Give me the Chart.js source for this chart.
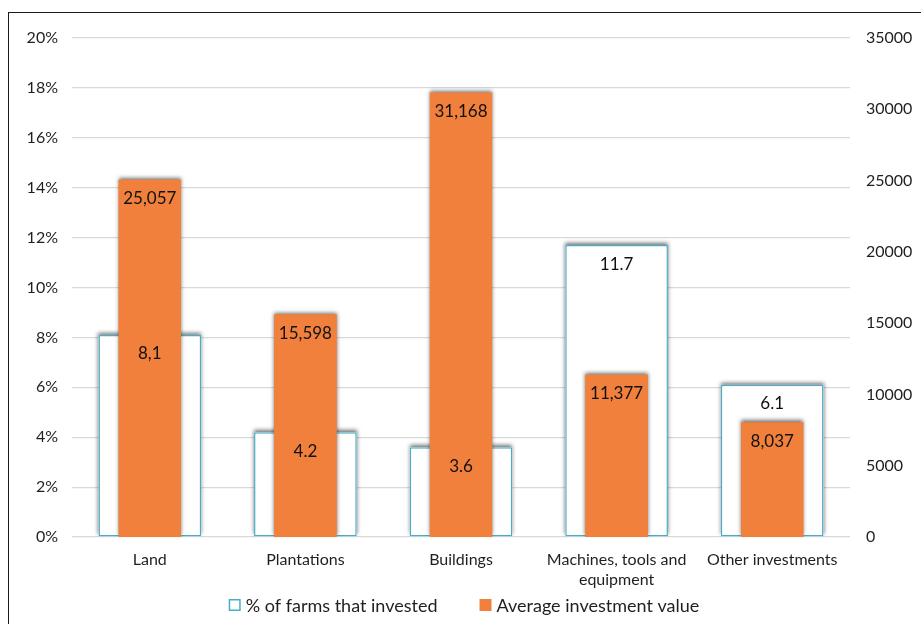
<!DOCTYPE html>
<html>
<head>
<meta charset="utf-8">
<script src="https://cdn.jsdelivr.net/npm/chart.js@4/dist/chart.umd.min.js"></script>
<style>
  html, body { margin: 0; padding: 0; background: #fff; overflow: hidden; }
  #frame {
    position: absolute; left: 8px; top: 12px; width: 1000px; height: 700px;
    border-top: 1.5px solid #1a1a1a; border-left: 1.5px solid #1a1a1a;
    pointer-events: none;
  }
  #wrap { position: absolute; left: 0; top: 0; width: 921px; height: 624px; }
</style>
</head>
<body>
<div id="frame"></div>
<div id="wrap"><canvas id="chart"></canvas></div>
<script>
const categories = ['Land', 'Plantations', 'Buildings', ['Machines, tools and', 'equipment'], 'Other investments'];
const pctValues = [8.1, 4.2, 3.6, 11.7, 6.1];
const pctText = ['8,1', '4.2', '3.6', '11.7', '6.1'];
const avgValues = [25057, 15598, 31168, 11377, 8037];
const pctTicks = [0, 2, 4, 6, 8, 10, 12, 14, 16, 18, 20];
const avgTicks = [0, 5000, 10000, 15000, 20000, 25000, 30000, 35000];

const ORANGE = '#F0803C';
const TEAL = '#4BACC6';
const FONT = 'Lato, Carlito, Calibri, sans-serif';

// soft grey shadow behind the top of each bar
const barShadow = {
  id: 'barShadow',
  beforeDatasetDraw(chart, args) {
    const ctx = chart.ctx;
    const area = chart.chartArea;
    ctx.save();
    ctx.beginPath();
    ctx.rect(area.left, area.top - 10, area.right - area.left, area.bottom - area.top + 10);
    ctx.clip();
    ctx.shadowColor = 'rgba(0,0,0,0.55)';
    ctx.shadowBlur = 4;
    ctx.shadowOffsetY = -2;
    ctx.fillStyle = chart.data.datasets[args.index].backgroundColor;
    args.meta.data.forEach(bar => {
      const { x, y, base, width } = bar.getProps(['x', 'y', 'base', 'width'], true);
      ctx.fillRect(x - width / 2, y, width, base - y);
    });
    ctx.restore();
  }
};

// value labels just inside the top of every bar
const valueLabels = {
  id: 'valueLabels',
  afterDatasetsDraw(chart) {
    const ctx = chart.ctx;
    ctx.save();
    ctx.font = '17px ' + FONT;
    ctx.fillStyle = '#111';
    ctx.textAlign = 'center';
    ctx.textBaseline = 'middle';
    chart.data.datasets.forEach((ds, i) => {
      chart.getDatasetMeta(i).data.forEach((bar, j) => {
        const text = i === 0 ? pctText[j] : avgValues[j].toLocaleString('en-US');
        ctx.fillText(text, bar.x, bar.y + 19);
      });
    });
    ctx.restore();
  }
};

// legend row under the axis labels
const bottomLegend = {
  id: 'bottomLegend',
  afterDraw(chart) {
    const ctx = chart.ctx;
    const box = 12, gap = 5, spacing = 42, y = 605;
    ctx.save();
    ctx.font = '18px ' + FONT;
    ctx.textBaseline = 'middle';
    const items = chart.data.datasets.map(ds => ({ ds, w: ctx.measureText(ds.label).width }));
    const total = items.reduce((s, it) => s + box + gap + it.w, 0) + spacing * (items.length - 1);
    let x = 464 - total / 2;
    items.forEach(({ ds, w }) => {
      ctx.fillStyle = ds.backgroundColor;
      ctx.fillRect(x, y - box / 2, box, box);
      if (ds.borderWidth) {
        ctx.strokeStyle = ds.borderColor;
        ctx.lineWidth = 1.5;
        ctx.strokeRect(x + 0.75, y - box / 2 + 0.75, box - 1.5, box - 1.5);
      }
      ctx.fillStyle = '#1f1f1f';
      ctx.fillText(ds.label, x + box + gap, y + 1);
      x += box + gap + w + spacing;
    });
    ctx.restore();
  }
};

new Chart(document.getElementById('chart'), {
  type: 'bar',
  data: {
    labels: categories,
    datasets: [{
      label: '% of farms that invested',
      data: pctValues,
      yAxisID: 'y',
      backgroundColor: '#ffffff',
      borderColor: TEAL,
      borderWidth: 1.5,
      borderSkipped: false,
      grouped: false,
      categoryPercentage: 1,
      barPercentage: 0.66,
      order: 2
    }, {
      label: 'Average investment value',
      data: avgValues,
      yAxisID: 'y2',
      backgroundColor: ORANGE,
      borderWidth: 0,
      grouped: false,
      categoryPercentage: 1,
      barPercentage: 0.4,
      order: 1
    }]
  },
  options: {
    responsive: true,
    maintainAspectRatio: false,
    animation: false,
    layout: { padding: { top: 38, bottom: 34, left: 0, right: 0 } },
    scales: {
      x: {
        grid: { display: false, drawTicks: false },
        border: { display: false },
        ticks: { color: '#1f1f1f', padding: 12, font: { family: FONT, size: 16, lineHeight: 1.3 }, maxRotation: 0, autoSkip: false },
        afterFit(scale) { scale.height = 53; }
      },
      y: {
        position: 'left',
        min: 0,
        max: 20,
        afterBuildTicks(scale) { scale.ticks = pctTicks.map(v => ({ value: v })); },
        ticks: { color: '#1f1f1f', padding: 14, font: { family: FONT, size: 16 }, callback: v => v + '%' },
        grid: { color: '#d9d9d9', drawTicks: false, lineWidth: 1.2 },
        border: { display: false },
        afterFit(scale) { scale.width = 72; }
      },
      y2: {
        position: 'right',
        min: 0,
        max: 35000,
        afterBuildTicks(scale) { scale.ticks = avgTicks.map(v => ({ value: v })); },
        ticks: { color: '#1f1f1f', padding: 16, font: { family: FONT, size: 16 }, callback: v => String(v) },
        grid: { display: false, drawTicks: false },
        border: { display: false },
        afterFit(scale) { scale.width = 71; }
      }
    },
    plugins: {
      tooltip: { enabled: false },
      legend: { display: false }
    }
  },
  plugins: [barShadow, valueLabels, bottomLegend]
});
</script>
</body>
</html>
